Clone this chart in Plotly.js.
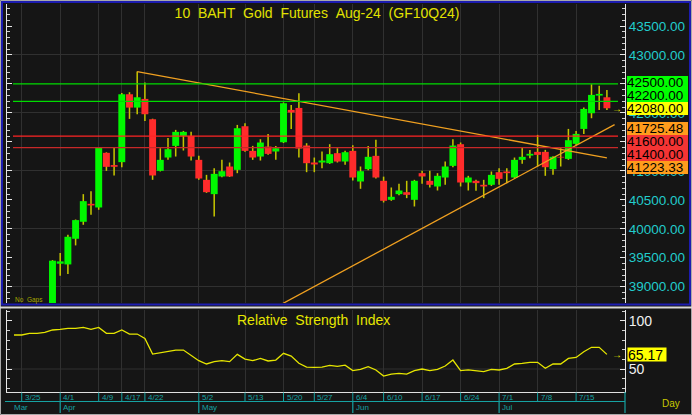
<!DOCTYPE html>
<html><head><meta charset="utf-8">
<script src="https://cdn.plot.ly/plotly-3.0.1.min.js"></script>
<style>html,body{margin:0;padding:0;background:#151515;overflow:hidden}#chart{width:692px;height:415px}</style>
</head><body><div id="chart"></div>
<script>
// ---------------- data ----------------
const tradingDates = [
 '3/22','3/25','3/26','3/27','3/28','3/29',
 '4/1','4/2','4/3','4/4','4/5','4/9','4/10','4/11','4/17','4/18','4/19','4/22','4/23','4/24','4/25','4/26','4/29','4/30',
 '5/2','5/3','5/7','5/8','5/9','5/10','5/13','5/14','5/15','5/16','5/17','5/20','5/21','5/23','5/24','5/27','5/28','5/29','5/30','5/31',
 '6/4','6/5','6/6','6/7','6/10','6/11','6/12','6/13','6/14','6/17','6/18','6/19','6/20','6/21','6/24','6/25','6/26','6/27','6/28',
 '7/1','7/2','7/3','7/4','7/5','7/8','7/9','7/10','7/11','7/12','7/15','7/16','7/17','7/18','7/19'
];
const candleStartDate = '3/29';
const openPrices = [
 38500,39397,39385,39828,40121,40431,40368,41311,41100,41150,
 42322,42092,42242,41891,41000,41230,41431,41604,41604,41190,
 40845,40598,40903,41075,41017,41770,41345,41247,41420,41334,
 41494,42052,42086,41437,41144,41144,41132,41305,41161,41345,
 40816,41029,41259,40828,40500,40598,40632,40500,40960,40828,
 40730,40885,41086,41460,40799,40828,40759,40759,40977,40989,
 40885,41190,41264,41328,41328,41029,41242,41207,41466,41724,
 41994,42299,42270
];
const highPrices = [
 39460,39581,39897,40160,40598,40650,41410,41320,41403,42345,
 42357,42713,42523,41900,41391,41569,41707,41690,41673,41259,
 40931,41046,41190,41144,41793,41822,41431,41546,41638,41431,
 42180,42138,42339,41477,41230,41334,41460,41391,41345,41443,
 41075,41431,41535,40900,40713,40776,40828,40845,41000,41000,
 40960,41161,41546,41489,40914,40845,40845,40989,41046,41046,
 41230,41403,41362,41621,41362,41250,41391,41724,41690,42092,
 42494,42471,42397
];
const lowPrices = [
 38450,39190,39219,39713,40069,40242,40328,41000,40920,41063,
 41897,41977,41862,40845,40990,41190,41247,41351,41178,40845,
 40620,40213,40891,40895,40960,41330,41190,41178,41276,41190,
 41480,41724,41230,40977,40977,41046,41120,41144,41104,40834,
 40690,41010,40868,40454,40483,40580,40529,40385,40776,40713,
 40661,40759,41063,40730,40661,40656,40529,40740,40759,40788,
 40870,41121,41219,41075,40914,40931,41075,41190,41440,41638,
 41908,42052,42052
];
const closePrices = [
 39449,39437,39862,40150,40477,40403,41403,41069,41070,42322,
 42092,42270,41977,40920,41190,41374,41673,41673,41247,40868,
 40632,40948,40994,40903,41736,41345,41230,41489,41293,41391,
 42167,42006,41385,41132,41110,41178,41288,41161,41322,40885,
 40994,41242,40885,40483,40552,40661,40586,40828,40903,40759,
 40914,41075,41437,40799,40885,40788,40730,40931,40862,40960,
 41190,41242,41294,41276,41063,41242,41230,41529,41638,42069,
 42311,42328,42080
];
const rsiValues = [
 85.2,85.2,86.9,86.9,88,90.4,91,92,92,93.1,
 91,93.1,86.9,86.9,90.4,86.2,86.2,81.7,65.5,66.9,
 67.9,69.6,69.6,64.5,58.6,55.2,57.6,58.6,57.6,65.2,
 60.3,58.6,61,58.3,59.3,66.2,63.4,55.9,52,51.7,
 52,53.8,52.8,54,48.3,49.6,52.4,49,42.7,44.8,
 45.5,44.8,48.3,50,48.3,49.6,53.1,59.3,48.3,49,
 48.3,47.2,49.6,49,50.7,55.2,55.9,56.9,56.9,50.7,
 55.2,55.2,61,62,67.9,72.5,72.5,65.17
];
const dayTickLabels = ['3/25','4/1','4/9','4/17','4/22','5/2','5/13','5/20','5/27','6/4','6/10','6/17','6/24','7/1','7/8','7/15'];
const monthLabels = ['Mar','Apr','May','Jun','Jul'];
const monthStartDates = ['3/22','4/1','5/2','6/4','7/1'];
const priceTickValues = [39000, 39500, 40000, 40500, 41000, 41500, 42000, 42500, 43000, 43500];
const greenLevels = [42500, 42200];
const redLevels = [41600, 41400];
const downTrendDates = ['4/19','7/19'];
const downTrendValues = [42713, 41223.33];
const upTrendDates = ['5/14','7/19'];
const upTrendValues = [38430, 41725.48];
const titleText = '10\u00a0\u00a0BAHT\u00a0\u00a0Gold\u00a0\u00a0Futures\u00a0\u00a0Aug-24\u00a0\u00a0(GF10Q24)';
const rsiTitleText = 'Relative\u00a0\u00a0Strength\u00a0\u00a0Index';
const noGapsText = 'No\u00a0\u00a0Gaps';
const periodText = 'Day';

// ---------------- layout helpers ----------------
const W = 692, H = 415;
const px = x => x / W;
const py = y => 1 - y / H;
const FONT = 'Liberation Sans, Arial, sans-serif';
const BG = '#151515', GRID = '#303030', CYAN = '#22cccc', TEAL = '#16a2a2';

const plotL = 7, plotR = 625;
const mainTop = 4, mainBot = 303;
const rsiTop = 310, rsiBot = 391.7;
const xRange = [-0.909, 79.35];
const yRange = [38719, 43880];
const rsiRange = [26.5, 111.1];

const idx = d => tradingDates.indexOf(d);
const c0 = idx(candleStartDate);
const candleX = openPrices.map((_, i) => c0 + i);
const allX = tradingDates.map((_, i) => i);
const dayTickX = dayTickLabels.map(idx);

// ---------------- traces ----------------
const wicks = {
  type: 'bar', x: candleX, base: lowPrices,
  y: highPrices.map((h, i) => h - lowPrices[i]),
  width: 0.2, marker: {color: '#c4c400', line: {width: 0}},
  xaxis: 'x', yaxis: 'y', hoverinfo: 'skip', showlegend: false
};
const bodies = {
  type: 'bar', x: candleX,
  base: openPrices.map((o, i) => Math.min(o, closePrices[i])),
  y: openPrices.map((o, i) => Math.abs(closePrices[i] - o)),
  width: 0.9,
  marker: {color: openPrices.map((o, i) => closePrices[i] >= o ? '#00f800' : '#ff2b2b'), line: {width: 0}},
  xaxis: 'x', yaxis: 'y', hoverinfo: 'skip', showlegend: false
};
const downX = downTrendDates.map(idx);
const downLine = {
  type: 'scatter', mode: 'lines', x: downX, y: downTrendValues,
  line: {color: '#f0a020', width: 1.3}, xaxis: 'x', yaxis: 'y', hoverinfo: 'skip', showlegend: false
};
const upX = upTrendDates.map(idx);
const upSlope = (upTrendValues[1] - upTrendValues[0]) / (upX[1] - upX[0]);
const upLine = {
  type: 'scatter', mode: 'lines',
  x: [upX[0], upX[1] + 1], y: [upTrendValues[0], upTrendValues[1] + upSlope],
  line: {color: '#f0a020', width: 1.3}, xaxis: 'x', yaxis: 'y', hoverinfo: 'skip', showlegend: false
};
const gridHolder = {type: 'scatter', mode: 'lines', x: [null], y: [null], xaxis: 'x', yaxis: 'y3', hoverinfo: 'skip', showlegend: false};
const rsiLine = {
  type: 'scatter', mode: 'lines', x: allX, y: rsiValues,
  line: {color: '#e6e600', width: 1.3}, xaxis: 'x2', yaxis: 'y2', hoverinfo: 'skip', showlegend: false
};

// ---------------- shapes ----------------
const shapes = [];
greenLevels.forEach(v => shapes.push({type: 'line', xref: 'x domain', yref: 'y', x0: 0.0097, x1: 0.9887, y0: v, y1: v, line: {color: '#00dc00', width: 1.3}}));
redLevels.forEach((v, i) => shapes.push({type: 'line', xref: 'x domain', yref: 'y', x0: 0.0097, x1: 0.9887, y0: v, y1: v, line: {color: i === 0 ? '#ff2424' : '#c82828', width: 1.3}}));
shapes.push({type: 'line', xref: 'x2 domain', yref: 'y2', x0: 0, x1: 1, y0: 50, y1: 50, layer: 'below', line: {color: GRID, width: 1}});
// frames
shapes.push({type: 'rect', xref: 'paper', yref: 'paper', x0: px(0.5), x1: px(691.5), y0: py(0.5), y1: py(414.5), line: {color: '#a8a8a8', width: 1}});
shapes.push({type: 'rect', xref: 'paper', yref: 'paper', x0: px(2), x1: px(690), y0: py(2), y1: py(304.5), line: {color: '#1c1cb0', width: 2}});
shapes.push({type: 'line', xref: 'paper', yref: 'paper', x0: px(0), x1: px(692), y0: py(307.5), y1: py(307.5), line: {color: '#d8d8d8', width: 2}});
// date strip
shapes.push({type: 'line', xref: 'paper', yref: 'paper', x0: px(5), x1: px(plotR), y0: py(401.5), y1: py(401.5), line: {color: TEAL, width: 1.2}});
shapes.push({type: 'line', xref: 'paper', yref: 'paper', x0: px(plotR), x1: px(plotR), y0: py(392), y1: py(413), line: {color: TEAL, width: 1.2}});
dayTickX.forEach(x => shapes.push({type: 'line', xref: 'x2', yref: 'paper', x0: x, x1: x, y0: py(392.5), y1: py(401.5), line: {color: TEAL, width: 1}}));
monthStartDates.slice(1).forEach(d => shapes.push({type: 'line', xref: 'x2', yref: 'paper', x0: idx(d), x1: idx(d), y0: py(401.5), y1: py(413), line: {color: TEAL, width: 1.2}}));

// ---------------- annotations ----------------
const annotations = [];
dayTickLabels.forEach((t, i) => annotations.push({xref: 'x2', yref: 'paper', x: dayTickX[i], y: py(397), xanchor: 'left', yanchor: 'middle', xshift: 1, text: t, showarrow: false, font: {family: FONT, size: 8, color: TEAL}}));
monthLabels.forEach((t, i) => annotations.push({xref: 'x2', yref: 'paper', x: idx(monthStartDates[i]), y: py(407.5), xanchor: 'left', yanchor: 'middle', xshift: i === 0 ? -2 : 1, text: t, showarrow: false, font: {family: FONT, size: 8, color: TEAL}}));
annotations.push({xref: 'paper', yref: 'paper', x: px(671), y: py(403), xanchor: 'center', yanchor: 'middle', text: periodText, showarrow: false, font: {family: FONT, size: 10, color: '#c8c800'}});
annotations.push({xref: 'paper', yref: 'paper', x: px(13), y: py(299.5), xanchor: 'left', yanchor: 'middle', text: noGapsText, showarrow: false, font: {family: FONT, size: 6.5, color: '#a8a800'}});
annotations.push({xref: 'paper', yref: 'paper', x: px(313), y: py(320), xanchor: 'center', yanchor: 'middle', text: rsiTitleText, showarrow: false, font: {family: FONT, size: 14, color: '#e6e600'}});

// right-side value boxes
const boxH = 13;
const priceToPx = v => mainTop + (yRange[1] - v) / (yRange[1] - yRange[0]) * (mainBot - mainTop);
const lastClose = closePrices[closePrices.length - 1];
const boxes = [
  {v: greenLevels[0], bg: '#00ff00'}, {v: greenLevels[1], bg: '#00ff00'},
  {v: lastClose, bg: '#ffff00', anchor: true},
  {v: upTrendValues[1], bg: '#ff9c1c'},
  {v: redLevels[0], bg: '#f43434'}, {v: redLevels[1], bg: '#f43434'},
  {v: downTrendValues[1], bg: '#ff9c1c'}
].sort((a, b) => b.v - a.v);
boxes.forEach(b => b.p = priceToPx(b.v));
const ai = boxes.findIndex(b => b.anchor);
for (let i = ai - 1; i >= 0; i--) boxes[i].p = Math.min(boxes[i].p, boxes[i + 1].p - boxH);
for (let i = ai + 1; i < boxes.length; i++) boxes[i].p = Math.max(boxes[i].p, boxes[i - 1].p + boxH);
boxes.forEach(b => annotations.push({xref: 'paper', yref: 'paper', x: px(627), y: py(b.p), xanchor: 'left', yanchor: 'middle',
  width: 61, height: boxH, align: 'left', bgcolor: b.bg, borderpad: 0, borderwidth: 0,
  text: b.v.toFixed(2), showarrow: false, font: {family: FONT, size: 13.5, color: '#000'}}));
annotations.push({xref: 'paper', yref: 'paper', x: px(617), y: py(priceToPx(lastClose)), xanchor: 'center', yanchor: 'middle', text: '→', showarrow: false, font: {family: FONT, size: 10, color: '#e6e600'}});

// axis labels that sit fully behind a value box are not visible in the reference
const priceTickText = priceTickValues.map(v => {
  const p = priceToPx(v);
  return boxes.some(b => Math.abs(b.p - p) < 3) ? '' : v.toFixed(2);
});

const rsiLast = rsiValues[rsiValues.length - 1];
const rsiToPx = v => rsiTop + (rsiRange[1] - v) / (rsiRange[1] - rsiRange[0]) * (rsiBot - rsiTop);
annotations.push({xref: 'paper', yref: 'paper', x: px(627), y: py(rsiToPx(rsiLast)), xanchor: 'left', yanchor: 'middle',
  width: 38, height: 13, align: 'left', bgcolor: '#ffff00', borderpad: 0, text: rsiLast.toFixed(2), showarrow: false, font: {family: FONT, size: 14, color: '#000'}});
annotations.push({xref: 'paper', yref: 'paper', x: px(617), y: py(rsiToPx(rsiLast)), xanchor: 'center', yanchor: 'middle', text: '→', showarrow: false, font: {family: FONT, size: 10, color: '#e6e600'}});

// ---------------- axes ----------------
const xCommon = {range: xRange, tickmode: 'array', tickvals: dayTickX, showticklabels: false, ticks: '',
  showgrid: true, gridcolor: GRID, gridwidth: 1, zeroline: false, fixedrange: true};
const layout = {
  width: W, height: H, margin: {l: 0, r: 0, t: 0, b: 0},
  paper_bgcolor: BG, plot_bgcolor: BG, showlegend: false, barmode: 'overlay',
  font: {family: FONT},
  title: {text: titleText, font: {family: FONT, size: 14, color: '#e2e200'}, x: px(317), xanchor: 'center', xref: 'paper',
    y: py(13), yanchor: 'middle', yref: 'paper'},
  xaxis: Object.assign({}, xCommon, {domain: [px(plotL), px(plotR)], anchor: 'y', showline: false}),
  xaxis2: Object.assign({}, xCommon, {domain: [px(plotL), px(plotR)], anchor: 'y2', matches: 'x', showline: true, linecolor: '#e0e0e0', linewidth: 1}),
  yaxis: {domain: [py(mainBot), py(mainTop)], anchor: 'x', range: yRange, side: 'right', tickmode: 'array',
    tickvals: priceTickValues, ticktext: priceTickText,
    showgrid: false, zeroline: false, showline: true, linecolor: '#e8e8e8', linewidth: 1, mirror: 'ticks',
    ticks: 'inside', ticklen: 5, tickcolor: '#e8e8e8', tickwidth: 1,
    minor: {tickmode: 'linear', tick0: 0, dtick: 100, ticks: 'inside', ticklen: 3, tickcolor: '#d0d0d0', showgrid: false},
    tickfont: {family: FONT, size: 13.5, color: CYAN}, fixedrange: true},
  yaxis3: {overlaying: 'y', anchor: 'x', range: yRange, side: 'right', dtick: 1000, tick0: 0, showgrid: true, gridcolor: GRID, gridwidth: 1,
    showticklabels: false, ticks: '', showline: false, zeroline: false, fixedrange: true},
  yaxis2: {domain: [py(rsiBot), py(rsiTop)], anchor: 'x2', range: rsiRange, side: 'right', tickmode: 'array', tickvals: [50, 100],
    showgrid: false, zeroline: false, showline: true, linecolor: '#e8e8e8', linewidth: 1, mirror: 'ticks',
    ticks: 'inside', ticklen: 5, tickcolor: '#e8e8e8',
    minor: {tickmode: 'linear', tick0: 0, dtick: 10, ticks: 'inside', ticklen: 3, tickcolor: '#d0d0d0', showgrid: false},
    tickfont: {family: FONT, size: 14, color: '#f0f0f0'}, fixedrange: true},
  shapes: shapes,
  annotations: annotations
};

Plotly.newPlot('chart', [wicks, bodies, gridHolder, downLine, upLine, rsiLine], layout, {staticPlot: true, displayModeBar: false});
</script>
</body></html>
